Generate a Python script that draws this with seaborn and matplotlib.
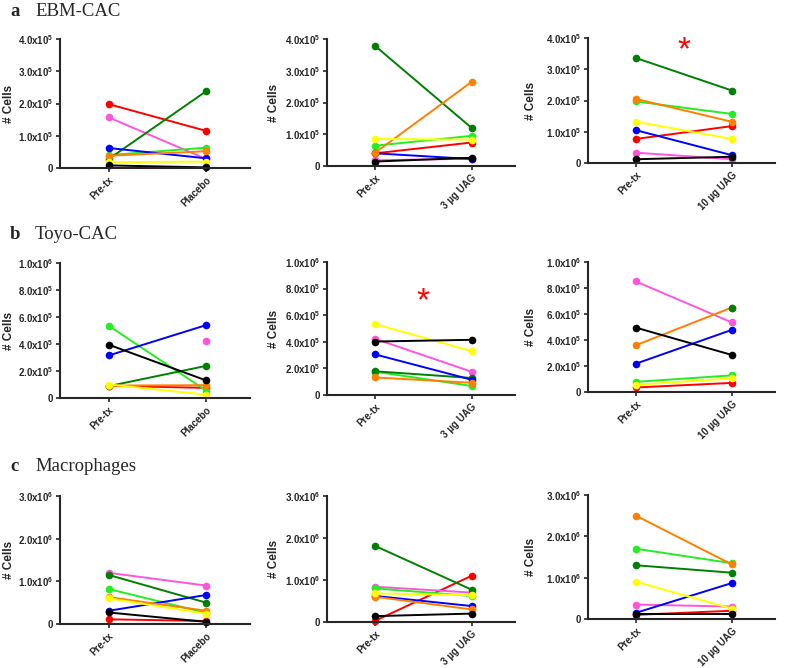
import math

import matplotlib
import numpy as np
import pandas as pd

matplotlib.use("Agg")
import matplotlib.pyplot as plt
import seaborn as sns
from matplotlib.ticker import FuncFormatter

nan = np.nan

# donor order shared by every panel (one colour per donor)
DONORS = ["d1", "d2", "d3", "d4", "d5", "d6", "d7", "d8"]
DONOR_COLOURS = ["#ff0000", "#ff55dd", "#22ee22", "#008000",
                 "#0000ff", "#ff8000", "#ffff00", "#000000"]

# ---- a  EBM-CAC (x1e5) ----
EBM_PLACEBO_PRE = [1.98, 1.57, 0.40, 0.28, 0.62, 0.38, 0.18, 0.08]
EBM_PLACEBO_POST = [1.15, 0.28, 0.63, 2.38, 0.30, 0.52, 0.20, 0.02]
EBM_UAG3_PRE = [0.40, 0.18, 0.64, 3.78, 0.40, 0.42, 0.85, 0.14]
EBM_UAG3_POST = [0.74, 0.23, 0.95, 1.20, 0.22, 2.65, 0.83, 0.26]
EBM_UAG10_PRE = [0.77, 0.33, 1.97, 3.36, 1.05, 2.05, 1.32, 0.12]
EBM_UAG10_POST = [1.18, 0.12, 1.57, 2.32, 0.25, 1.32, 0.77, 0.20]

# ---- b  Toyo-CAC (x1e5) ----
TOYO_PLACEBO_PRE = [0.90, nan, 5.35, 0.88, 3.15, 0.92, 1.00, 3.95]
TOYO_PLACEBO_POST = [0.75, 4.20, 0.55, 2.38, 5.40, 0.95, 0.25, 1.30]
TOYO_UAG3_PRE = [nan, 4.22, 1.75, 1.78, 3.05, 1.32, 5.33, 4.02]
TOYO_UAG3_POST = [nan, 1.75, 0.68, 1.28, 1.15, 0.92, 3.30, 4.15]
TOYO_UAG10_PRE = [0.35, 8.50, 0.78, nan, 2.18, 3.60, 0.55, 4.95]
TOYO_UAG10_POST = [0.70, 5.35, 1.28, 6.50, 4.78, 6.50, 1.05, 2.85]

# ---- c  Macrophages (x1e6) ----
MAC_PLACEBO_PRE = [0.11, 1.20, 0.82, 1.15, 0.31, 0.63, 0.60, 0.27]
MAC_PLACEBO_POST = [0.07, 0.90, 0.26, 0.50, 0.68, 0.31, 0.24, 0.05]
MAC_UAG3_PRE = [0.03, 0.84, 0.80, 1.81, 0.62, 0.60, 0.68, 0.14]
MAC_UAG3_POST = [1.10, 0.70, 0.62, 0.77, 0.38, 0.30, 0.64, 0.20]
MAC_UAG10_PRE = [0.10, 0.35, 1.70, 1.30, 0.15, 2.50, 0.90, 0.12]
MAC_UAG10_POST = [0.20, 0.30, 1.35, 1.12, 0.87, 1.32, 0.25, 0.12]

ROW_TITLES = [("a", "EBM-CAC"), ("b", "Toyo-CAC"), ("c", "Macrophages")]
ROW_SCALE = [1e5, 1e5, 1e6]
ROW_YMAX = [4e5, 1e6, 3e6]
ROW_YSTEP = [1e5, 2e5, 1e6]
POST_LABELS = ["Placebo", "3 \u00b5g UAG", "10 \u00b5g UAG"]

PANELS = [
    [(EBM_PLACEBO_PRE, EBM_PLACEBO_POST), (EBM_UAG3_PRE, EBM_UAG3_POST),
     (EBM_UAG10_PRE, EBM_UAG10_POST)],
    [(TOYO_PLACEBO_PRE, TOYO_PLACEBO_POST), (TOYO_UAG3_PRE, TOYO_UAG3_POST),
     (TOYO_UAG10_PRE, TOYO_UAG10_POST)],
    [(MAC_PLACEBO_PRE, MAC_PLACEBO_POST), (MAC_UAG3_PRE, MAC_UAG3_POST),
     (MAC_UAG10_PRE, MAC_UAG10_POST)],
]

# significance stars: (row, col, y)
STARS = [(0, 2, 3.6e5), (1, 1, 7.0e5)]

# axes boxes in pixels: (left, right) per column, (top, bottom) per row/col
COL_X = [(60, 250), (327, 515), (588, 775)]
YLABEL_X = [15, 280, 537]
ROW_Y = [
    [(39, 168), (39, 166), (38, 163)],
    [(263, 398), (262, 395), (262, 392)],
    [(496, 624), (496, 622), (495, 619)],
]
TITLE_Y = [16, 239, 471]

W, H = 785, 668

sns.set_style("ticks")
plt.rcParams["font.family"] = ["Liberation Sans", "DejaVu Sans"]
plt.rcParams["mathtext.fontset"] = "custom"
plt.rcParams["mathtext.rm"] = "Liberation Sans:bold"
plt.rcParams["mathtext.it"] = "Liberation Sans:bold"
plt.rcParams["mathtext.bf"] = "Liberation Sans:bold"


def sci_label(v, pos):
    if v <= 0:
        return "0"
    exp = int(math.floor(math.log10(v) + 1e-9))
    mant = v / 10 ** exp
    return f"{mant:.1f}x10$^{{{exp}}}$"


fig = plt.figure(figsize=(W / 100, H / 100), dpi=100)
palette = dict(zip(DONORS, DONOR_COLOURS))

for r in range(3):
    letter, title = ROW_TITLES[r]
    fig.text(10 / W, 1 - TITLE_Y[r] / H, letter, family="Liberation Serif",
             fontweight="bold", fontsize=13.5, va="baseline")
    fig.text(35 / W, 1 - TITLE_Y[r] / H, title, family="Liberation Serif",
             fontsize=13.5, va="baseline")
    for c in range(3):
        pre, post = PANELS[r][c]
        left, right = COL_X[c]
        top, bottom = ROW_Y[r][c]
        ax = fig.add_axes([left / W, 1 - bottom / H,
                           (right - left) / W, (bottom - top) / H])

        df = pd.DataFrame({
            "donor": DONORS * 2,
            "pos": [0] * len(DONORS) + [1] * len(DONORS),
            "cells": np.array(list(pre) + list(post), dtype=float) * ROW_SCALE[r],
        }).dropna()
        sns.lineplot(data=df, x="pos", y="cells", hue="donor", palette=palette,
                     units="donor", estimator=None, marker="o", markersize=5.5,
                     markeredgewidth=0, linewidth=1.4, legend=False, ax=ax)
        for ln in ax.lines:
            ln.set_clip_on(False)

        ax.set_xlim(-0.5, 1.45)
        ax.set_ylim(0, ROW_YMAX[r])
        ax.set_yticks(np.arange(0, ROW_YMAX[r] + 1, ROW_YSTEP[r]))
        ax.yaxis.set_major_formatter(FuncFormatter(sci_label))
        ax.set_xticks([0, 1])
        ax.set_xticklabels(["Pre-tx", POST_LABELS[c]], rotation=45, ha="right",
                           rotation_mode="anchor", fontweight="bold", fontsize=7)
        ax.tick_params(axis="y", labelsize=7, length=3, width=1.2, pad=2)
        ax.tick_params(axis="x", length=3, width=1.2, pad=2)
        for lab in ax.get_yticklabels():
            lab.set_fontweight("bold")
        ax.set_xlabel("")
        ax.set_ylabel("# Cells", fontweight="bold", fontsize=8.5)
        ax.yaxis.set_label_coords((YLABEL_X[c] - left) / (right - left), 0.5)
        for side in ["left", "bottom"]:
            ax.spines[side].set_linewidth(1.5)
        sns.despine(ax=ax)

        for sr, sc, sy in STARS:
            if sr == r and sc == c:
                ax.text(0.5, sy, "*", color="red", fontsize=24,
                        ha="center", va="center")

fig.savefig("out.png", dpi=100)
